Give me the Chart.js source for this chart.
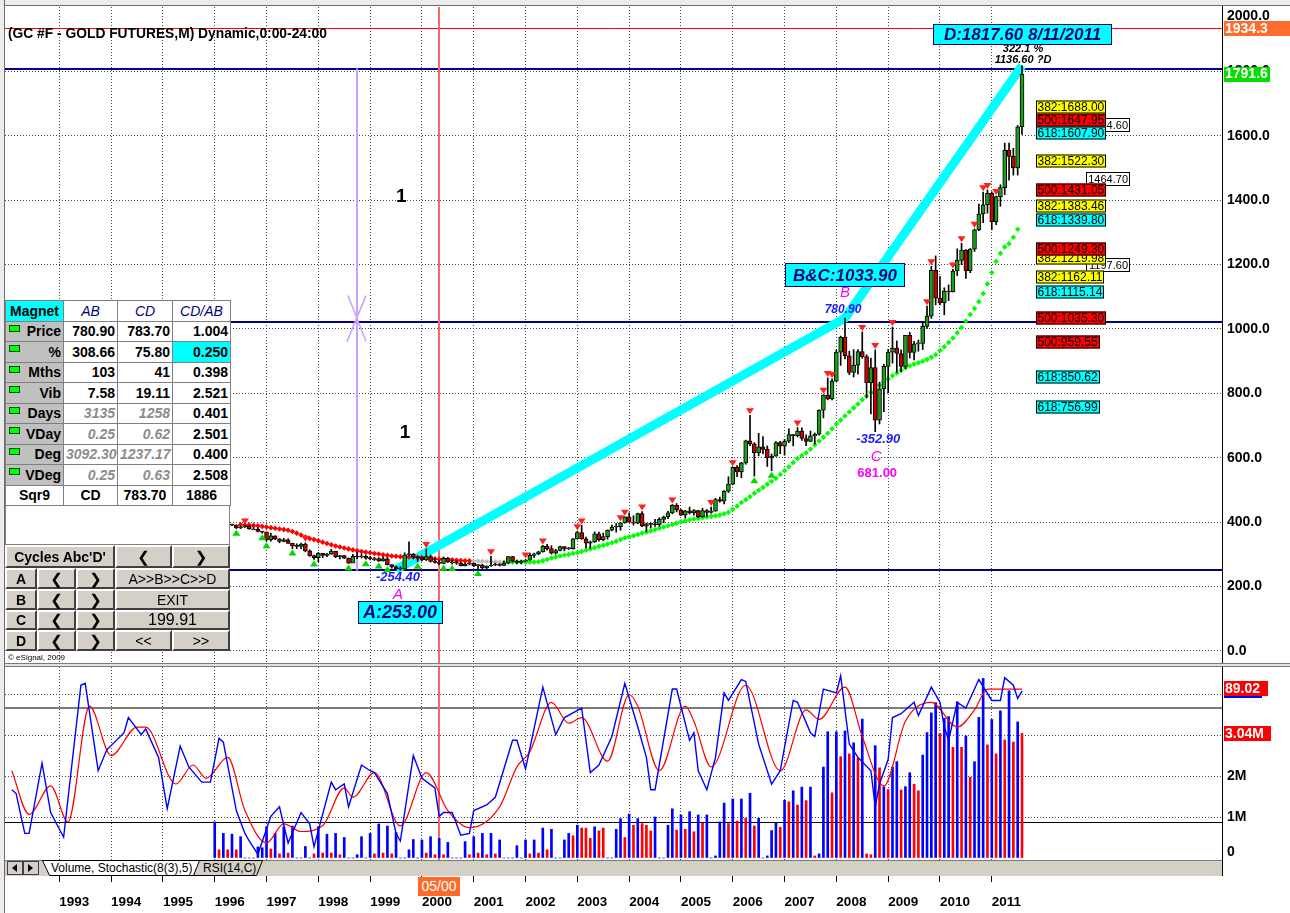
<!DOCTYPE html>
<html>
<head>
<meta charset="utf-8">
<title>(GC #F - GOLD FUTURES,M)</title>
<script src="https://cdn.jsdelivr.net/npm/chart.js@4.4.1/dist/chart.umd.min.js"></script>
<style>
  html, body { margin: 0; padding: 0; }
  body { position: relative; width: 1290px; height: 913px; overflow: hidden; background: #fff; font-family: Arial, "Liberation Sans", sans-serif; }
  #priceBox { position: absolute; left: 0; top: 0; width: 1290px; height: 666px; }
  #lowerBox { position: absolute; left: 0; top: 664px; width: 1290px; height: 249px; }
  .frameTop { position: absolute; left: 0; top: 0; width: 1290px; height: 5px; background: #ececec; border-bottom: 1px solid #6e6e6e; }
  .frameLeft { position: absolute; left: 0; top: 0; width: 4px; height: 913px; background: #ececec; border-right: 1px solid #6e6e6e; }
  .axisLine { position: absolute; left: 1222px; top: 6px; width: 1px; height: 870px; background: #000; }
  .paneSplit { position: absolute; left: 5px; top: 663px; width: 1285px; height: 2px; background: #e2e2e2; border-top: 1px solid #7a7a7a; border-bottom: 1px solid #7a7a7a; }
  #title { position: absolute; left: 8px; top: 26px; font: bold 13.8px Arial; color: #000; white-space: nowrap; }

  #magnet { position: absolute; left: 5px; top: 300px; width: 225px; border-collapse: collapse; table-layout: fixed; background: #fff; }
  #magnet td { height: 19.5px; padding: 0 2px; border: 1px solid #7f7f7f; font: bold 14px Arial; color: #000; text-align: right; position: relative; white-space: nowrap; overflow: hidden; }
  #magnet td.hd { background: #00ffff; text-align: center; }
  #magnet td.ch { color: #000080; font-style: italic; font-weight: normal; text-align: center; }
  #magnet td.lb { background: #c0c0c0; }
  #magnet td.cy { background: #00ffff; }
  #magnet td.gi { color: #8c8c8c; font-style: italic; }
  #magnet tr.sq td { text-align: center; }
  .led { position: absolute; left: 3px; top: 3px; width: 9px; height: 5px; background: #00ff00; border: 1px solid #005000; }
  #blank { position: absolute; left: 5px; top: 505px; width: 223px; height: 38px; background: #fff; border: 1px solid #808080; }

  #cyc { position: absolute; left: 5px; top: 545px; width: 225px; height: 106px; background: #d4d0c8; }
  .btn { position: absolute; box-sizing: border-box; border: 2px solid; border-color: #fff #404040 #404040 #fff; background: #d4d0c8;
         display: flex; align-items: center; justify-content: center; font: bold 14px Arial; color: #000; white-space: nowrap; }
  .btn.arr { font: bold 15px "DejaVu Sans"; }
  .btn.rg { font-weight: normal; }
  #copy { position: absolute; left: 8px; top: 653px; font: 8px Arial; color: #000; }

  .tabs { position: absolute; left: 5px; top: 860px; }
  .cursorTag { position: absolute; left: 418px; top: 877px; width: 42px; height: 19px; background: #ff6a2a; color: #fff; font: 14px Arial; line-height: 19px; text-align: center; }
</style>
</head>
<body>

<div id="priceBox"><canvas id="priceCanvas"></canvas></div>
<div id="lowerBox"><canvas id="lowerCanvas"></canvas></div>

<div class="frameTop"></div>
<div class="frameLeft"></div>
<div class="axisLine"></div>
<div class="paneSplit"></div>
<div id="title">(GC #F - GOLD FUTURES,M) Dynamic,0:00-24:00</div>

<table id="magnet">
  <colgroup><col style="width:58px"><col style="width:54px"><col style="width:55px"><col style="width:58px"></colgroup>
  <tr><td class="hd">Magnet</td><td class="ch">AB</td><td class="ch">CD</td><td class="ch">CD/AB</td></tr>
  <tr><td class="lb"><span class="led"></span>Price</td><td>780.90</td><td>783.70</td><td>1.004</td></tr>
  <tr><td class="lb"><span class="led"></span>%</td><td>308.66</td><td>75.80</td><td class="cy">0.250</td></tr>
  <tr><td class="lb"><span class="led"></span>Mths</td><td>103</td><td>41</td><td>0.398</td></tr>
  <tr><td class="lb"><span class="led"></span>Vib</td><td>7.58</td><td>19.11</td><td>2.521</td></tr>
  <tr><td class="lb"><span class="led"></span>Days</td><td class="gi">3135</td><td class="gi">1258</td><td>0.401</td></tr>
  <tr><td class="lb"><span class="led"></span>VDay</td><td class="gi">0.25</td><td class="gi">0.62</td><td>2.501</td></tr>
  <tr><td class="lb"><span class="led"></span>Deg</td><td class="gi">3092.30</td><td class="gi">1237.17</td><td>0.400</td></tr>
  <tr><td class="lb"><span class="led"></span>VDeg</td><td class="gi">0.25</td><td class="gi">0.63</td><td>2.508</td></tr>
  <tr class="sq"><td>Sqr9</td><td>CD</td><td>783.70</td><td>1886</td></tr>
</table>
<div id="blank"></div>

<div id="cyc">
  <div class="btn" style="left:0;top:0;width:110px;height:23px">Cycles Abc'D'</div>
  <div class="btn arr" style="left:110px;top:0;width:57px;height:23px">&#x276E;</div>
  <div class="btn arr" style="left:167px;top:0;width:58px;height:23px">&#x276F;</div>

  <div class="btn" style="left:0;top:23px;width:32px;height:21px">A</div>
  <div class="btn arr" style="left:32px;top:23px;width:39px;height:21px">&#x276E;</div>
  <div class="btn arr" style="left:71px;top:23px;width:39px;height:21px">&#x276F;</div>
  <div class="btn rg" style="left:110px;top:23px;width:115px;height:21px">A&gt;&gt;B&gt;&gt;C&gt;&gt;D</div>

  <div class="btn" style="left:0;top:44px;width:32px;height:21px">B</div>
  <div class="btn arr" style="left:32px;top:44px;width:39px;height:21px">&#x276E;</div>
  <div class="btn arr" style="left:71px;top:44px;width:39px;height:21px">&#x276F;</div>
  <div class="btn rg" style="left:110px;top:44px;width:115px;height:21px">EXIT</div>

  <div class="btn" style="left:0;top:65px;width:32px;height:20px">C</div>
  <div class="btn arr" style="left:32px;top:65px;width:39px;height:20px">&#x276E;</div>
  <div class="btn arr" style="left:71px;top:65px;width:39px;height:20px">&#x276F;</div>
  <div class="btn rg" style="left:110px;top:65px;width:115px;height:20px;font-size:16px">199.91</div>

  <div class="btn" style="left:0;top:85px;width:32px;height:21px">D</div>
  <div class="btn arr" style="left:32px;top:85px;width:39px;height:21px">&#x276E;</div>
  <div class="btn arr" style="left:71px;top:85px;width:39px;height:21px">&#x276F;</div>
  <div class="btn rg" style="left:110px;top:85px;width:57px;height:21px">&lt;&lt;</div>
  <div class="btn rg" style="left:167px;top:85px;width:58px;height:21px">&gt;&gt;</div>
</div>
<div id="copy">&copy; eSignal, 2009</div>

<svg class="tabs" width="1217" height="16" viewBox="0 0 1217 16">
  <rect x="0" y="0" width="1217" height="16" fill="#d4d0c8"/>
  <line x1="0" y1="0.5" x2="1217" y2="0.5" stroke="#7a7a7a"/>
  <rect x="2.5" y="1.5" width="15" height="13" fill="#d4d0c8" stroke="#404040"/>
  <path d="M12,4 L7,8 L12,12 Z" fill="#000"/>
  <rect x="18.5" y="1.5" width="15" height="13" fill="#d4d0c8" stroke="#404040"/>
  <path d="M23,4 L28,8 L23,12 Z" fill="#000"/>
  <polygon points="193.5,0.5 257.5,0.5 251.5,15.5 188.5,15.5" fill="#d4d0c8" stroke="#000"/>
  <text x="198" y="12" font-family="Arial" font-size="12">RSI(14,C)</text>
  <polygon points="37.5,0.5 194.5,0.5 188.5,15.5 44.5,15.5" fill="#fff" stroke="#000"/>
  <text x="46" y="12" font-family="Arial" font-size="12">Volume, Stochastic(8(3),5)</text>
</svg>
<div class="cursorTag">05/00</div>

<script>
// months are counted from Jan 1993 (0 = 1993-01)
const yearLabels = ['1993','1994','1995','1996','1997','1998','1999','2000','2001','2002',
                    '2003','2004','2005','2006','2007','2008','2009','2010','2011'];
const yearTickIdx = [0,12,24,36,48,60,72,84,96,108,120,132,144,156,168,180,192,204,216];
const priceTicks = [0,200,400,600,800,1000,1200,1400,1600,1800];
const volTicks = [0,1,2,3,4];

// monthly candles, 1996-01 .. 2011-08
const firstCandleIdx = 36;
const candleOpen = [
  388,405,400,396,392,391,382,385,387,379,379,371,
  369,345,358,348,340,345,334,326,325,332,311,296,
  290,303,297,301,310,293,296,288,273,294,292,294,
  288,287,287,280,286,268,261,255,254,299,300,292,
  290,283,293,278,275,272,288,277,277,273,264,270,
  272,265,267,258,264,267,270,266,273,293,279,275,
  279,282,297,302,308,326,318,304,312,324,317,318,
  348,368,348,335,339,364,346,355,375,385,386,398,
  417,400,397,427,388,395,393,392,409,416,429,452,
  438,422,435,429,436,417,436,430,434,470,465,496,
  518,570,556,584,653,643,616,634,626,600,605,647,
  636,652,672,669,683,660,651,668,673,748,795,783,
  838,928,975,917,865,888,930,914,833,880,717,814,
  884,928,941,924,884,980,927,954,955,1008,1040,1182,
  1096,1081,1118,1115,1180,1213,1245,1181,1248,1308,1357,1386,
  1421,1333,1411,1439,1556,1536,1500,1628
];
const candleHigh = [
  418,416,403,398,394,392,388,390,389,385,384,372,
  370,366,358,349,350,348,335,333,335,336,314,298,
  306,303,303,316,310,297,297,289,300,306,301,298,
  294,291,290,292,290,268,264,262,305,339,303,292,
  292,317,298,289,281,292,291,281,280,276,273,275,
  273,268,269,265,294,273,271,279,294,294,282,282,
  284,304,304,310,328,331,327,316,326,324,322,349,
  372,390,354,341,370,369,366,376,391,396,400,417,
  429,420,428,433,397,398,409,414,419,434,455,458,
  441,437,447,439,437,443,439,447,474,478,498,541,
  571,576,586,655,732,647,676,666,637,612,650,651,
  657,690,673,694,693,671,683,677,749,796,848,845,
  935,978,1034,931,936,936,991,920,910,935,835,890,
  937,1006,963,935,980,990,962,966,1023,1071,1195,1227,
  1163,1128,1137,1185,1249,1266,1247,1250,1311,1388,1425,1432,
  1426,1413,1448,1577,1577,1561,1632,1818
];
const candleLow = [
  387,398,393,389,389,380,380,384,378,378,370,366,
  341,341,346,336,339,334,318,318,318,308,294,284,
  277,290,293,300,290,286,287,272,274,287,289,285,
  283,281,278,279,267,257,253,251,254,296,288,277,
  280,281,276,273,268,271,275,270,269,264,264,267,
  262,255,255,255,263,265,264,265,272,276,271,271,
  277,282,290,299,307,313,301,301,311,311,315,316,
  347,347,320,319,337,341,342,347,373,369,375,397,
  400,391,395,386,371,382,387,387,398,411,426,432,
  421,413,425,422,414,416,418,428,434,462,457,492,
  516,541,538,580,638,543,606,612,573,560,605,613,
  608,647,637,665,654,638,650,643,670,724,780,780,
  837,887,907,858,851,860,909,786,736,681,705,743,
  802,894,865,867,877,910,904,931,936,1002,1033,1075,
  1075,1044,1088,1115,1166,1200,1157,1175,1241,1305,1330,1360,
  1308,1324,1381,1417,1462,1478,1478,1604
];
const candleClose = [
  405,400,396,392,391,382,385,387,379,379,371,369,
  345,358,348,340,345,334,326,325,332,311,296,290,
  303,297,301,310,293,296,288,273,294,292,294,288,
  287,287,280,286,268,261,255,254,299,300,292,290,
  283,293,278,275,272,288,277,277,273,264,270,272,
  265,267,258,264,267,270,266,273,293,279,275,279,
  282,297,302,308,326,318,304,312,324,317,318,348,
  368,348,335,339,364,346,355,375,385,386,398,417,
  400,397,427,388,395,393,392,409,416,429,452,438,
  422,435,429,436,417,436,430,434,470,465,496,518,
  570,556,584,653,643,616,634,626,600,605,647,636,
  652,672,669,683,660,651,668,673,748,795,783,838,
  928,975,917,865,888,930,914,833,880,717,814,884,
  928,941,924,884,980,927,954,955,1008,1040,1182,1096,
  1081,1118,1115,1180,1213,1245,1181,1248,1308,1357,1386,1421,
  1333,1411,1439,1556,1536,1500,1628,1792
];

// swing markers (month index)
const redMarkIdx = [43,57,85,100,108,112,120,121,130,131,135,142,151,156,160,171,177,178,179,186,189,193,201,202,207,209,212,214,215,217];
const greenMarkIdx = [41,47,48,54,59,67,71,74,76,83,89,91,97,161,165];

// trailing dots, 1996-07 .. 2011-07
const maStartIdx = 42;
const maRedUntil = 95;
const maGreyUntil = 103;
const maDots = [
  392,391,391,390,389,387,385,383,381,379,377,375,
  371,366,360,354,349,346,342,338,334,330,326,323,
  320,317,314,311,309,307,305,303,301,299,297,295,
  294,293,292,292,292,291,290,289,288,286,285,284,
  283,283,282,281,280,280,279,279,278,278,277,277,
  276,276,276,276,276,276,276,276,276,277,280,284,
  289,292,295,298,300,303,305,309,313,317,321,325,
  328,332,336,341,346,351,355,358,362,366,369,373,
  377,381,385,389,393,397,401,404,407,410,412,414,
  416,418,420,422,426,431,440,450,461,470,479,490,
  499,508,518,527,536,548,560,572,585,598,607,615,
  627,640,652,664,676,690,705,717,730,742,755,767,
  780,792,804,814,825,835,845,855,863,872,880,886,
  891,895,900,905,912,920,933,945,958,972,988,1005,
  1025,1045,1064,1085,1110,1140,1175,1210,1235,1255,1265,1285,
  1310
];

// A-B-C-D pattern
const pivotIdx = [78, 182, 189, 223];
const pivotPrice = [253.00, 1033.90, 681.00, 1817.60];
const cyanPathIdx = [78, 182, 223];
const cyanPathVal = [253.00, 1033.90, 1817.60];
const redLevel = 1934.3;
const lastPrice = 1791.6;
const navyLevels = [1809, 1023, 250];
const cursorIdx = 88;          // 05/00
const cycleMarkIdx = 69;
const cycleMarkRange = [1809, 250];
const oneLabelIdx = [79.2, 80.1];
const oneLabelVal = [1410, 677];

// retracement tags on the right
const fibValues = [1688.00,1647.95,1607.90,1522.30,1431.05,1383.46,1339.80,1249.30,1219.98,1162.11,1115.14,1035.30,959.55,850.62,756.99];
const fibRatios = ['382','500','618','382','500','382','618','500','382','382','618','500','500','618','618'];
const whiteTagValues = [1634.60, 1464.70, 1197.60];

// stochastic (8(3),5): month index / value pairs
const stochKIdx = [-11,-10,-8,-7,-4,-2,1,5,6,9,11,15,16,19,20,23,25,28,30,33,35,37,38,41,43,44,46,49,51,53,56,58,59,63,64,66,67,70,72,73,76,78,79,82,84,87,88,89,91,93,95,96,99,101,105,106,108,112,115,117,121,123,125,128,131,134,136,137,138,142,143,146,147,148,150,152,154,155,158,159,162,165,167,170,171,174,175,177,180,181,183,185,188,189,190,192,193,195,198,199,202,204,205,206,208,210,213,216,218,219,221,222,223];
const stochKVal = [37,35,14,14,51,25,12,92,93,47,58,67,75,66,69,54,27,60,49,41,41,64,62,26,14,10,3,23,28,9,25,19,7,41,37,40,28,50,47,46,35,14,10,55,43,38,23,25,25,13,14,26,29,33,63,63,48,91,66,75,80,46,50,65,93,70,54,37,37,90,90,63,67,47,37,54,88,84,95,94,61,40,47,84,83,67,65,90,88,97,61,54,47,28,40,53,75,77,83,76,91,83,70,63,83,80,95,84,84,96,92,85,89];
const stochDIdx = [-11,-7,-2,2,7,12,18,20,27,31,34,39,43,48,52,56,61,66,68,73,79,85,90,95,102,106,109,114,118,121,127,132,134,139,145,147,151,159,167,173,176,182,186,191,196,202,208,212,215,223];
const stochDVal = [47,24,39,20,81,55,70,70,40,50,43,54,26,9,19,15,18,38,33,46,18,46,26,17,28,49,57,83,72,75,52,87,81,47,81,73,49,92,47,79,74,91,65,39,73,83,70,79,90,90];
const stochBands = [80, 20];
const stochLast = 89.02;

// monthly volume in millions, 1996-01 .. 2011-08 (1 = up month / blue, 0 = down month / red)
const volStartIdx = 36;
const volM = [
  0.88,0.2,0.6,0.2,0.58,0.2,0.52,0,0,0,0.27,0.25,
  0.76,0.22,0.6,0.1,0.76,0.12,0.78,0,0,0.28,0,0.1,
  0.76,0.12,0.58,0.12,0.6,0.08,0.5,0,0,0.08,0.52,0,
  0.6,0.1,0.83,0.12,0.78,0.1,0.62,0,0,0.2,0.45,0,
  0.44,0.12,0.52,0.08,0.48,0.08,0.38,0,0,0,0.4,0.08,
  0.52,0.12,0.6,0.08,0.6,0.1,0.44,0,0,0,0.3,0,
  0.44,0.1,0.44,0.12,0.73,0.2,0.7,0,0,0.44,0.6,0.54,
  0.8,0.73,0.73,0.48,0.76,0.66,0.73,0,0,0.7,0.96,0.5,
  1.07,0.8,0.96,0.84,0.8,0.66,1.0,0,0,0.8,1.2,0.68,
  1.05,0.7,1.13,0.64,1.05,0.85,1.05,0,0.05,0.88,1.34,0.84,
  1.44,0.9,1.44,0.97,1.58,0.78,0.97,0,0.05,0.67,0.85,0.75,
  1.41,1.37,1.64,1.29,1.73,1.4,1.73,0.05,0.1,2.22,3.08,1.59,
  3.08,2.47,3.1,2.54,2.81,2.44,3.39,0.1,0.08,2.74,2.2,1.74,
  1.67,2.22,2.35,1.66,1.74,2.08,1.8,1.64,2.51,3.06,3.54,3.79,
  3.04,3.41,3.45,2.7,3.81,2.7,2.98,1.97,2.35,3.43,4.38,2.76,
  3.38,2.54,3.59,2.88,4.08,2.83,3.32,3.04
];
const volUp = [
  1,0,1,0,1,0,1,1,1,1,1,1,
  1,0,1,0,1,0,1,1,1,1,1,0,
  1,0,1,0,1,0,1,1,1,1,1,1,
  1,0,1,0,1,0,1,1,1,1,1,1,
  1,0,1,0,1,0,1,1,1,1,1,0,
  1,0,1,0,1,0,1,1,1,1,1,1,
  1,0,1,0,1,0,1,1,1,1,1,0,
  1,0,0,0,1,0,0,1,1,1,1,0,
  1,0,1,0,0,0,1,1,1,1,1,0,
  1,0,1,0,1,0,1,1,1,1,1,0,
  1,0,1,0,1,0,1,1,1,1,1,0,
  1,0,1,0,1,0,1,0,1,1,1,0,
  1,0,1,0,1,0,1,0,0,1,0,1,
  0,1,1,0,1,1,0,0,1,1,1,1,
  0,1,1,0,1,0,1,0,1,1,1,0,
  1,0,1,0,1,0,1,0
];

// ---- layout of the plot (one month = 4.317 px, chart area 5..1222) ----
const X_MIN = -12.58, X_MAX = 269.33;
const PRICE_MIN = -40.4, PRICE_MAX = 2000;
const VOL_MIN = -0.049, VOL_MAX = 4.66;
const STOCH_MAX = 101.6;
const fibBoxIdx = 226.3;
const whiteBoxIdx = 237.8;

const GRID = '#4a4a4a';
const DOTS = [1, 2];
const tickFont = { family: 'Arial', size: 14, weight: 'bold' };

function hLine(ctx, x1, x2, y, color, w) {
  ctx.strokeStyle = color; ctx.lineWidth = w;
  ctx.beginPath(); ctx.moveTo(x1, y); ctx.lineTo(x2, y); ctx.stroke();
}
function vLine(ctx, x, y1, y2, color, w) {
  ctx.strokeStyle = color; ctx.lineWidth = w;
  ctx.beginPath(); ctx.moveTo(x, y1); ctx.lineTo(x, y2); ctx.stroke();
}
function text(ctx, s, x, y, font, color, align) {
  ctx.font = font; ctx.fillStyle = color;
  ctx.textAlign = align || 'center'; ctx.textBaseline = 'middle';
  ctx.fillText(s, x, y);
}
function tagBox(ctx, cx, cy, w, h, s, font, color, bg, border) {
  const l = Math.round(cx - w / 2), t = Math.round(cy - h / 2);
  ctx.fillStyle = bg; ctx.fillRect(l, t, w, h);
  ctx.strokeStyle = border; ctx.lineWidth = 1;
  ctx.strokeRect(l + 0.5, t + 0.5, w - 1, h - 1);
  text(ctx, s, cx, cy + 1, font, color);
}
function axisTag(ctx, cy, w, s, bg) {
  ctx.fillStyle = bg; ctx.fillRect(1224, Math.round(cy - 7.5), w, 15);
  text(ctx, s, 1225, cy + 0.5, 'bold 14px Arial', '#fff', 'left');
}

const priceDecor = {
  id: 'priceDecor',
  beforeDatasetsDraw(chart) {
    const { ctx, chartArea: a, scales: { x, y } } = chart;
    ctx.save();
    hLine(ctx, a.left, a.right, Math.round(y.getPixelForValue(redLevel)) + 0.5, '#ff0000', 1);
    navyLevels.forEach(v => hLine(ctx, a.left, a.right, Math.round(y.getPixelForValue(v)), '#000080', 2.2));
    vLine(ctx, Math.round(x.getPixelForValue(cursorIdx)), a.top, a.bottom, '#ff6464', 2);
    const lx = Math.round(x.getPixelForValue(cycleMarkIdx));
    vLine(ctx, lx, y.getPixelForValue(cycleMarkRange[0]), y.getPixelForValue(cycleMarkRange[1]), '#c9a0ff', 2);
    const my = y.getPixelForValue(navyLevels[1]);
    ctx.lineWidth = 1.5;
    ctx.beginPath();
    ctx.moveTo(lx - 9, my - 26); ctx.lineTo(lx + 9, my + 20);
    ctx.moveTo(lx + 9, my - 26); ctx.lineTo(lx - 10, my + 20);
    ctx.stroke();
    ctx.restore();
  },
  afterDatasetsDraw(chart) {
    const { ctx, scales: { x, y } } = chart;
    ctx.save();
    ctx.fillStyle = '#ff2020';
    redMarkIdx.forEach(k => {
      const px = x.getPixelForValue(k), py = y.getPixelForValue(candleHigh[k - firstCandleIdx]) - 1;
      ctx.beginPath(); ctx.moveTo(px - 4, py - 6); ctx.lineTo(px + 4, py - 6); ctx.lineTo(px, py); ctx.closePath(); ctx.fill();
    });
    ctx.fillStyle = '#00d800';
    greenMarkIdx.forEach(k => {
      const px = x.getPixelForValue(k), py = y.getPixelForValue(candleLow[k - firstCandleIdx]) + 1;
      ctx.beginPath(); ctx.moveTo(px - 4, py + 6); ctx.lineTo(px + 4, py + 6); ctx.lineTo(px, py); ctx.closePath(); ctx.fill();
    });
    ctx.restore();
  },
  afterDraw(chart) {
    const { ctx, scales: { x, y } } = chart;
    const pt = k => [x.getPixelForValue(pivotIdx[k]), y.getPixelForValue(pivotPrice[k])];
    ctx.save();

    // white price tags, then the retracement tags over them
    const wx = Math.round(x.getPixelForValue(whiteBoxIdx));
    whiteTagValues.forEach(v => {
      const cy = Math.round(y.getPixelForValue(v));
      ctx.fillStyle = '#fff'; ctx.fillRect(wx, cy - 7, 44, 14);
      ctx.strokeStyle = '#000'; ctx.lineWidth = 1; ctx.strokeRect(wx + 0.5, cy - 6.5, 43, 13);
      text(ctx, v.toFixed(2), wx + 42, cy + 0.5, '11px Arial', '#000', 'right');
    });
    const fx = Math.round(x.getPixelForValue(fibBoxIdx));
    const fibBg = { '382': '#ffff00', '500': '#ff0000', '618': '#00ffff' };
    for (let i = fibValues.length - 1; i >= 0; i--) {
      const s = fibRatios[i] + ':' + fibValues[i].toFixed(2);
      ctx.font = '12px Arial';
      const w = Math.ceil(ctx.measureText(s).width) + 3;
      const cy = Math.round(y.getPixelForValue(fibValues[i]));
      ctx.fillStyle = fibBg[fibRatios[i]]; ctx.fillRect(fx, cy - 6.5, w, 13);
      ctx.strokeStyle = '#000'; ctx.lineWidth = 1; ctx.strokeRect(fx + 0.5, cy - 6, w - 1, 12);
      text(ctx, s, fx + 1.5, cy + 0.5, '12px Arial', '#000', 'left');
    }

    // pivot annotations
    const [ax, ay] = pt(0), [bx, by] = pt(1), [cx, cy] = pt(2), [dx, dy] = pt(3);
    text(ctx, '-254.40', ax + 2, ay + 8, 'italic bold 13px Arial', '#1c1cff');
    text(ctx, 'A', ax + 2, ay + 25, 'italic 15px Arial', '#ff00ff');
    tagBox(ctx, ax + 4, ay + 43, 85, 23, 'A:' + pivotPrice[0].toFixed(2), 'italic bold 18px Arial', '#000080', '#00ffff', '#000080');
    tagBox(ctx, bx, by - 43, 120, 24, 'B&C:' + pivotPrice[1].toFixed(2), 'italic bold 17px Arial', '#000080', '#00ffff', '#000080');
    text(ctx, 'B', bx, by - 25, 'italic 15px Arial', '#ff00ff');
    text(ctx, '780.90', bx - 2, by - 8, 'italic bold 12px Arial', '#1c1cff');
    text(ctx, '-352.90', cx + 3, cy + 8, 'italic bold 13px Arial', '#1c1cff');
    text(ctx, 'C', cx + 1, cy + 25, 'italic 15px Arial', '#ff00ff');
    text(ctx, pivotPrice[2].toFixed(2), cx + 2, cy + 42, 'bold 13px Arial', '#ff00ff');
    tagBox(ctx, dx + 0.5, dy - 31, 179, 21, 'D:' + pivotPrice[3].toFixed(2) + ' 8/11/2011', 'italic bold 17px Arial', '#000080', '#00ffff', '#000080');
    text(ctx, '322.1 %', dx + 1, dy - 17, 'italic bold 11px Arial', '#000');
    text(ctx, '1136.60 ?D', dx + 1, dy - 6, 'italic bold 11px Arial', '#000');
    oneLabelIdx.forEach((k, i) => text(ctx, '1', x.getPixelForValue(k), y.getPixelForValue(oneLabelVal[i]), 'bold 19px Arial', '#000'));

    // right axis tags
    axisTag(ctx, y.getPixelForValue(redLevel), 66, redLevel.toFixed(1), '#ff6b2b');
    axisTag(ctx, y.getPixelForValue(lastPrice), 46, lastPrice.toFixed(1), '#00e000');
    text(ctx, PRICE_MAX.toFixed(1), 1227, 16, 'bold 14px Arial', '#000', 'left');
    ctx.restore();
  }
};

const lowerDecor = {
  id: 'lowerDecor',
  beforeDatasetsDraw(chart) {
    const { ctx, chartArea: a, scales: { x, stoch } } = chart;
    ctx.save();
    hLine(ctx, a.left, a.right, Math.round(stoch.getPixelForValue(stochBands[0])), '#7c7c7c', 2);
    hLine(ctx, a.left, a.right, Math.round(stoch.getPixelForValue(stochBands[1])) + 0.5, '#000', 1);
    vLine(ctx, Math.round(x.getPixelForValue(cursorIdx)), a.top, a.bottom, '#ff6464', 2);
    ctx.restore();
  },
  afterDraw(chart) {
    const { ctx, scales: { stoch, vol } } = chart;
    ctx.save();
    const ky = stoch.getPixelForValue(stochLast);
    axisTag(ctx, ky - 2, 44, stochLast.toFixed(2), '#ff0000');
    ctx.fillStyle = '#0000ff'; ctx.fillRect(1224, Math.round(ky + 5), 38, 2);
    const last = volM[volM.length - 1];
    axisTag(ctx, vol.getPixelForValue(last), 47, last.toFixed(2) + 'M', '#ff0000');
    text(ctx, '0', 1227, vol.getPixelForValue(0) - 6, 'bold 14px Arial', '#000', 'left');
    ctx.restore();
  }
};

// ---- price panel ----
const wickData = candleHigh.map((h, i) => ({ x: firstCandleIdx + i, y: [candleLow[i], h] }));
const bodyData = candleOpen.map((o, i) => ({ x: firstCandleIdx + i, y: [o, candleClose[i]] }));
const bodyColors = candleOpen.map((o, i) => candleClose[i] >= o ? '#18a018' : '#cc0000');
const maData = maDots.map((v, i) => ({ x: maStartIdx + i, y: v }));
const maColors = maDots.map((v, i) => {
  const k = maStartIdx + i;
  return k <= maRedUntil ? '#ff0000' : (k <= maGreyUntil ? '#bdbdbd' : '#00ff00');
});
const cyanData = cyanPathIdx.map((k, i) => ({ x: k, y: cyanPathVal[i] }));

new Chart(document.getElementById('priceCanvas'), {
  type: 'bar',
  data: {
    datasets: [
      { type: 'line', label: 'ABCD', data: cyanData, borderColor: '#00ffff', borderWidth: 9, pointRadius: 0, order: 5 },
      { type: 'line', label: 'dots', data: maData, showLine: false, pointStyle: 'rectRot', pointRadius: 2.8,
        pointBackgroundColor: maColors, pointBorderWidth: 0, order: 4 },
      { type: 'bar', label: 'range', data: wickData, backgroundColor: '#000', barThickness: 1, grouped: false, order: 3 },
      { type: 'bar', label: 'body', data: bodyData, backgroundColor: bodyColors, borderColor: '#000', borderWidth: 1,
        borderSkipped: false, barThickness: 4, minBarLength: 1, grouped: false, order: 2 }
    ]
  },
  options: {
    responsive: true, maintainAspectRatio: false, animation: false, events: [],
    layout: { autoPadding: false, padding: { left: 5, top: 7, right: 0, bottom: 0 } },
    plugins: { legend: { display: false }, tooltip: { enabled: false } },
    scales: {
      x: {
        type: 'linear', min: X_MIN, max: X_MAX, offset: false,
        afterBuildTicks: s => { s.ticks = yearTickIdx.map(v => ({ value: v })); },
        afterFit: s => { s.height = 2; s.paddingLeft = 0; s.paddingRight = 0; },
        ticks: { display: false },
        grid: { color: GRID, drawTicks: false, offset: false },
        border: { display: false, dash: DOTS }
      },
      y: {
        position: 'right', min: PRICE_MIN, max: PRICE_MAX,
        afterBuildTicks: s => { s.ticks = priceTicks.map(v => ({ value: v })); },
        afterFit: s => { s.width = 68; s.paddingTop = 0; s.paddingBottom = 0; },
        ticks: { callback: v => v.toFixed(1), color: '#000', font: tickFont, padding: 5 },
        grid: { color: GRID, drawTicks: false },
        border: { display: false, dash: DOTS }
      }
    }
  },
  plugins: [priceDecor]
});

// ---- volume / stochastic panel ----
const volData = volM.map((v, i) => ({ x: volStartIdx + i, y: v }));
const volColors = volUp.map(u => u ? '#0000ff' : '#ff0000');
const stochKData = stochKIdx.map((k, i) => ({ x: k, y: stochKVal[i] }));
const stochDData = stochDIdx.map((k, i) => ({ x: k, y: stochDVal[i] }));

new Chart(document.getElementById('lowerCanvas'), {
  type: 'bar',
  data: {
    datasets: [
      { type: 'bar', label: 'Volume', data: volData, yAxisID: 'vol', backgroundColor: volColors, barThickness: 2, grouped: false, order: 3 },
      { type: 'line', label: '%D', data: stochDData, yAxisID: 'stoch', borderColor: '#ff0000', borderWidth: 1.2,
        pointRadius: 0, cubicInterpolationMode: 'monotone', order: 2 },
      { type: 'line', label: '%K', data: stochKData, yAxisID: 'stoch', borderColor: '#0000ff', borderWidth: 1.4,
        pointRadius: 0, order: 1 }
    ]
  },
  options: {
    responsive: true, maintainAspectRatio: false, animation: false, events: [],
    layout: { autoPadding: false, padding: { left: 5, top: 3, right: 0, bottom: 0 } },
    plugins: { legend: { display: false }, tooltip: { enabled: false } },
    scales: {
      x: {
        type: 'linear', min: X_MIN, max: X_MAX, offset: false,
        afterBuildTicks: s => { s.ticks = yearTickIdx.map(v => ({ value: v })); },
        afterFit: s => { s.height = 53; s.paddingLeft = 0; s.paddingRight = 0; },
        ticks: {
          callback: v => { const k = yearTickIdx.indexOf(v); return k >= 0 ? yearLabels[k] : ''; },
          align: 'start', autoSkip: false, maxRotation: 0, color: '#000',
          font: { family: 'Arial', size: 13.5, weight: 'bold' }, padding: 12
        },
        grid: { color: GRID, offset: false, tickLength: 22, tickColor: '#000', tickBorderDash: [], tickWidth: 1 },
        border: { display: false, dash: DOTS }
      },
      stoch: { type: 'linear', display: false, min: 0, max: STOCH_MAX },
      vol: {
        type: 'linear', position: 'right', min: VOL_MIN, max: VOL_MAX,
        afterBuildTicks: s => { s.ticks = volTicks.map(v => ({ value: v })); },
        afterFit: s => { s.width = 68; s.paddingTop = 0; s.paddingBottom = 0; },
        ticks: { callback: v => (v === 1 || v === 2) ? v + 'M' : '', color: '#000', font: tickFont, padding: 5 },
        grid: { color: c => c.tick && c.tick.value === 0 ? 'rgba(0,0,0,0)' : GRID, drawTicks: false },
        border: { display: false, dash: DOTS }
      }
    }
  },
  plugins: [lowerDecor]
});
</script>
</body>
</html>
